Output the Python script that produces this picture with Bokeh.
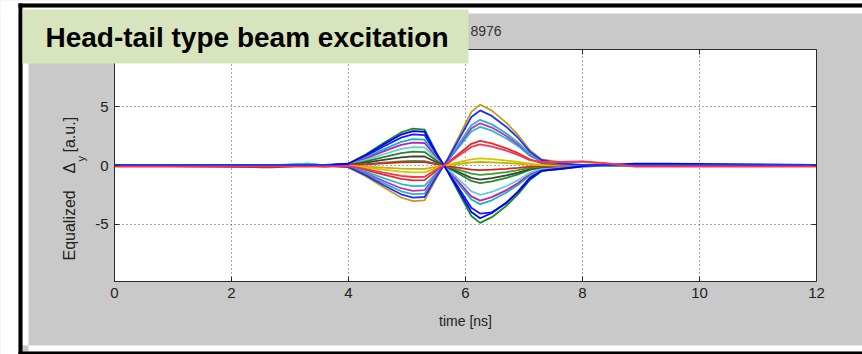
from math import pi
from bokeh.plotting import figure
from bokeh.models import Label, LinearAxis, FixedTicker, Range1d, Column
from bokeh.embed import file_html
from bokeh.resources import INLINE

# ---- data ----
time_ns = [0, 2.5, 2.7, 3.3, 3.6, 4.0, 4.3, 4.6, 4.9, 5.1, 5.3, 5.5, 5.7, 5.9,
           6.1, 6.25, 6.45, 6.7, 6.9, 7.1, 7.3, 7.6, 8.0, 8.4, 8.9, 9.3, 12]

s01 = [0, 0, 0, 0, 0, 0.16, 0.96, 1.92, 2.82, 3.14, 3.07, 1.12, -0.59, -2.45, -4.31, -4.9, -4.41, -3.43, -2.45, -1.23, -0.49, -0.2, 0.05, 0, 0, 0, 0]
s02 = [0.05, 0.05, 0.05, 0.05, 0.05, 0.15, 0.9, 1.8, 2.64, 2.94, 2.88, 1.05, -0.54, -2.25, -3.96, -4.5, -4.05, -3.15, -2.25, -1.13, -0.45, -0.3, -0.05, 0.05, 0.15, 0.15, 0.05]
s03 = [0, 0, 0, 0, 0, 0.14, 0.81, 1.62, 2.38, 2.65, 2.59, 0.95, -0.49, -2.05, -3.61, -4.1, -4.0, -3.2, -2.2, -1.03, -0.41, -0.3, -0.1, 0, 0, 0, 0]
s04 = [0, 0, 0, 0.15, 0, 0.12, 0.69, 1.38, 2.02, 2.25, 2.21, 0.81, -0.4, -1.65, -2.9, -3.3, -2.97, -2.31, -1.65, -0.83, -0.33, -0.13, 0, 0, 0, 0, 0]
s05 = [0, 0, 0, 0, 0, 0.1, 0.6, 1.2, 1.76, 1.96, 1.92, 0.7, -0.36, -1.5, -2.64, -3.0, -2.7, -2.1, -1.5, -0.75, -0.3, -0.12, 0, 0, 0, 0, 0]
s06 = [0, 0, 0, 0, 0, 0.08, 0.48, 0.96, 1.41, 1.57, 1.54, 0.56, -0.3, -1.25, -2.2, -2.5, -2.25, -1.75, -1.25, -0.63, -0.25, -0.1, 0, 0, 0, 0, 0]
s07 = [0, 0, 0, 0, 0, 0.06, 0.36, 0.72, 1.06, 1.18, 1.15, 0.42, -0.18, -0.75, -1.32, -1.5, -1.35, -1.05, -0.75, -0.38, -0.15, -0.06, 0, 0, 0, 0, 0]
s08 = [0, -0.15, -0.15, 0, -0.1, 0.04, 0.24, 0.48, 0.7, 0.78, 0.77, 0.28, -0.14, -0.6, -1.06, -1.2, -1.08, -0.84, -0.6, -0.3, -0.12, -0.05, 0, 0, 0, 0, 0]
s09 = [0, 0, 0, 0, 0, 0.02, 0.12, 0.24, 0.35, 0.39, 0.38, 0.14, -0.1, -0.4, -0.7, -0.8, -0.72, -0.56, -0.4, -0.2, -0.08, -0.03, 0, 0, 0, 0, 0]
s10 = [0, 0, 0, 0, 0, 0.02, 0.09, 0.18, 0.26, 0.29, 0.29, 0.11, -0.05, -0.2, -0.35, -0.4, -0.36, -0.28, -0.2, -0.1, -0.04, -0.02, 0, 0, 0, 0, 0]
s11 = [0, 0, 0, 0, 0, -0.02, -0.09, -0.18, -0.26, -0.29, -0.29, -0.11, 0.04, 0.15, 0.26, 0.3, 0.27, 0.21, 0.15, 0.08, 0.03, 0.01, 0, 0, 0, 0, 0]
s12 = [0, 0, 0, 0, 0, -0.03, -0.18, -0.36, -0.53, -0.59, -0.58, -0.21, 0.07, 0.3, 0.53, 0.6, 0.54, 0.42, 0.3, 0.15, 0.06, 0.02, 0, 0, 0, 0, 0]
s13 = [-0.1, -0.1, -0.1, -0.1, -0.1, -0.05, -0.3, -0.6, -0.88, -0.98, -0.96, -0.35, 0.22, 0.9, 1.58, 1.8, 1.62, 1.26, 0.9, 0.45, 0.3, 0.3, 0.35, 0.2, -0.1, -0.1, -0.1]
s14 = [0, 0, 0, 0, 0, -0.07, -0.39, -0.78, -1.14, -1.27, -1.25, -0.46, 0.25, 1.05, 1.85, 2.1, 1.89, 1.47, 1.05, 0.53, 0.21, 0.08, 0, 0, 0, 0, 0]
s15 = [0, 0, 0, 0.15, 0, -0.09, -0.54, -1.08, -1.58, -1.76, -1.73, -0.63, 0.4, 1.65, 2.9, 3.3, 2.97, 2.31, 1.65, 0.83, 0.33, 0.13, 0, 0, 0, 0, 0]
s16 = [0, 0, 0, 0, 0, -0.11, -0.66, -1.32, -1.94, -2.16, -2.11, -0.77, 0.43, 1.8, 3.17, 3.6, 3.24, 2.52, 1.8, 0.9, 0.36, 0.14, 0, 0, 0, 0, 0]
s17 = [0, 0, 0, 0, 0, -0.13, -0.75, -1.5, -2.2, -2.45, -2.4, -0.88, 0.47, 1.95, 3.43, 3.9, 3.51, 2.73, 1.95, 0.98, 0.39, 0.16, 0, 0, 0, 0, 0]
s18 = [0.05, 0.05, 0.05, 0.05, 0.05, -0.14, -0.84, -1.68, -2.46, -2.74, -2.69, -0.98, 0.56, 2.35, 4.14, 4.7, 4.23, 3.29, 2.35, 1.18, 0.47, 0.19, 0.05, 0.05, 0.05, 0.05, 0.05]
s19 = [0, 0, 0, 0, 0, -0.16, -0.93, -1.86, -2.73, -3.04, -2.98, -1.09, 0.62, 2.6, 4.58, 5.2, 4.68, 3.64, 2.6, 1.3, 0.52, 0.3, 0.3, 0.15, 0, 0, 0]

x_ticks = [0, 2, 4, 6, 8, 10, 12]
y_ticks = [-5, 0, 5]
y_tick_text = {-5: "-5", 0: "0", 5: "5"}
x_grid = [2, 4, 6, 8, 10]

series = [
    (s01, "#1c8c1c"), (s03, "#1a1aff"), (s04, "#10b8b8"), (s05, "#c020c0"),
    (s06, "#60d0d0"), (s07, "#208a20"), (s08, "#404040"), (s09, "#30a030"),
    (s10, "#e02020"), (s11, "#b8b800"), (s12, "#d8c400"), (s14, "#d83030"),
    (s15, "#20c0c0"), (s16, "#c030c0"), (s17, "#30b0d0"), (s19, "#c89a10"),
    (s02, "#0000ff"), (s18, "#2030ff"), (s13, "#ff3050"),
]

W, H = 862, 354
FL, FR, FT, FB = 114, 816, 49, 281  # plot box edges in page px

font = "Liberation Sans"
axcol = "#2a2a2a"
txtcol = "#222222"
gray = "#c9c9c9"

# ---------------- main chart ----------------
p = figure(width=W, height=H, x_range=Range1d(0, 12), y_range=Range1d(-9.9, 9.9),
           output_backend="svg", toolbar_location=None,
           min_border_left=FL, min_border_right=W - FR,
           min_border_top=FT, min_border_bottom=H - FB)
p.border_fill_color = gray
p.background_fill_color = "white"
p.outline_line_color = None

for ys, col in series:
    p.line(time_ns, ys, line_color=col, line_width=1.8)


def style_axis(ax, ticks, labels=None):
    ax.ticker = FixedTicker(ticks=ticks)
    ax.major_tick_in = 5
    ax.major_tick_out = 0
    ax.minor_tick_line_color = None
    ax.axis_line_color = axcol
    ax.major_tick_line_color = axcol
    ax.major_label_text_font = font
    ax.major_label_text_font_size = "15px"
    ax.major_label_text_color = txtcol
    if labels is not None:
        ax.major_label_overrides = labels


style_axis(p.xaxis[0], x_ticks)
style_axis(p.yaxis[0], y_ticks, y_tick_text)
p.xaxis.major_label_standoff = 6
p.yaxis.major_label_standoff = 6
p.xaxis.axis_label = "time [ns]"
p.xaxis.axis_label_text_font = font
p.xaxis.axis_label_text_font_style = "normal"
p.xaxis.axis_label_text_font_size = "14px"
p.xaxis.axis_label_text_color = txtcol
p.xaxis.axis_label_standoff = 12

top_ax = LinearAxis()
style_axis(top_ax, x_ticks, {t: "" for t in x_ticks})
p.add_layout(top_ax, "above")
right_ax = LinearAxis()
style_axis(right_ax, y_ticks, {t: "" for t in y_ticks})
p.add_layout(right_ax, "right")

p.xgrid.ticker = FixedTicker(ticks=x_grid)
p.ygrid.ticker = FixedTicker(ticks=y_ticks)
for g in (p.xgrid[0], p.ygrid[0]):
    g.grid_line_color = "#555555"
    g.grid_line_dash = "1 3"
    g.grid_line_width = 1

# ---------------- overlay (page surround, caption, labels) ----------------
q = figure(frame_width=W, frame_height=H, x_range=Range1d(0, W), y_range=Range1d(H, 0),
           output_backend="svg", toolbar_location=None, min_border=0,
           x_axis_location=None, y_axis_location=None)
q.grid.visible = False
q.outline_line_color = None
q.background_fill_alpha = 0
q.border_fill_alpha = 0
for fig in (p, q):
    if "frame_align" in fig.properties():
        fig.frame_align = False

# white margins
q.quad(left=[0, 0, 0, 22, 28], right=[18, W, W, 28, W], top=[0, 0, 7, 7, 345],
       bottom=[H, 3, 13, 345, 351], fill_color="white", line_color=None)
# black frame lines
q.quad(left=[18, 18, 18], right=[22, W, W], top=[3, 3, 351], bottom=[H, 7, H],
       fill_color="black", line_color=None)
# caption box
q.quad(left=[22], right=[468], top=[9], bottom=[63], fill_color="#d7e4bd", line_color=None)

q.add_layout(Label(x=45, y=37, text="Head-tail type beam excitation", text_font=font,
                   text_font_style="bold", text_font_size="28px", text_color="black",
                   text_baseline="alphabetic"))
q.add_layout(Label(x=470, y=30, text="8976", text_font=font, text_font_size="14px",
                   text_color="#333333", text_baseline="alphabetic"))

# y axis label (rotated, with subscript)
q.add_layout(Label(x=69, y=260, text="Equalized", angle=pi / 2, text_font=font,
                   text_font_size="16px", text_color=txtcol,
                   text_align="left", text_baseline="middle"))
q.add_layout(Label(x=69, y=173, text="\u0394", angle=pi / 2, text_font=font,
                   text_font_size="16px", text_color=txtcol,
                   text_align="left", text_baseline="middle"))
q.add_layout(Label(x=80, y=161, text="y", angle=pi / 2, text_font=font,
                   text_font_size="11px", text_color=txtcol,
                   text_align="left", text_baseline="middle"))
q.add_layout(Label(x=69, y=152, text="[a.u.]", angle=pi / 2, text_font=font,
                   text_font_size="16px", text_color=txtcol,
                   text_align="left", text_baseline="middle"))

q.styles = {"position": "absolute", "left": "0px", "top": "0px"}
root = Column(children=[p, q], styles={"position": "relative"})

open("out.html", "w").write(file_html(root, INLINE))
